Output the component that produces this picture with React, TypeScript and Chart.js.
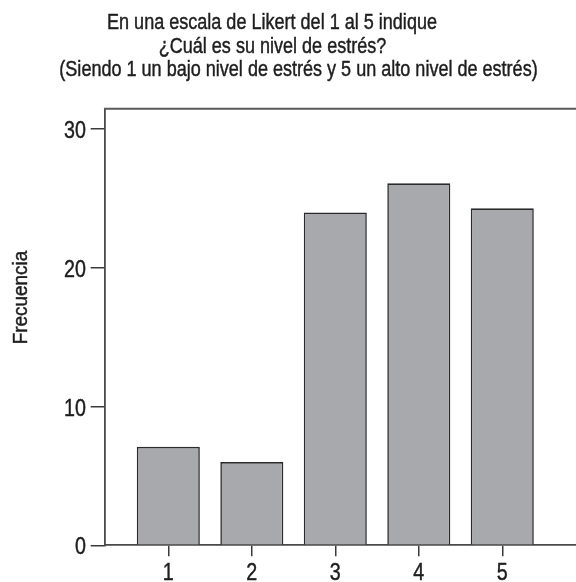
import React, { useEffect, useRef } from "react";
import { Chart, registerables } from "chart.js";

Chart.register(...registerables);

// ---- data ----
const categories = ["1", "2", "3", "4", "5"];
const categoryValues = [1, 2, 3, 4, 5];
const frequencies = [7.1, 6, 24, 26.1, 24.3];
const yTickValues = [0, 10, 20, 30];
const titleLines = [
  "En una escala de Likert del 1 al 5 indique",
  "¿Cuál es su nivel de estrés?",
  "(Siendo 1 un bajo nivel de estrés y 5 un alto nivel de estrés)",
];
const yAxisLabel = "Frecuencia";

// ---- style ----
const W = 576;
const H = 582;
const SQUEEZE = 0.82;
const TEXT = "#1e1e1e";
const FONT = '"Liberation Sans", Arial, sans-serif';

function drawNarrow(
  ctx: CanvasRenderingContext2D,
  text: string,
  x: number,
  y: number,
  size: number,
  align: CanvasTextAlign,
  baseline: CanvasTextBaseline,
  rotate = 0,
  squeeze = SQUEEZE
) {
  ctx.save();
  ctx.translate(x, y);
  if (rotate) ctx.rotate(rotate);
  ctx.scale(squeeze, 1);
  ctx.font = `${size}px ${FONT}`;
  ctx.fillStyle = TEXT;
  ctx.strokeStyle = TEXT;
  ctx.lineWidth = 0.45;
  ctx.textAlign = align;
  ctx.textBaseline = baseline;
  ctx.fillText(text, 0, 0);
  ctx.strokeText(text, 0, 0);
  ctx.restore();
}

const textPlugin = {
  id: "narrowText",
  afterDraw(chart: any) {
    const ctx = chart.ctx as CanvasRenderingContext2D;
    const area = chart.chartArea;
    // top frame line
    ctx.save();
    ctx.strokeStyle = "#5a5a5a";
    ctx.lineWidth = 2;
    ctx.beginPath();
    ctx.moveTo(area.left - 0.75, area.top);
    ctx.lineTo(area.right + 10, area.top);
    ctx.stroke();
    ctx.restore();

    // titles
    const titleX = [272, 272.5, 298.5];
    const titleY = [28.5, 52.5, 75.5];
    titleLines.forEach((t, i) => drawNarrow(ctx, t, titleX[i], titleY[i], 22, "center", "alphabetic"));

    // y axis label
    drawNarrow(ctx, yAxisLabel, 26.7, 297.5, 19.5, "center", "alphabetic", -Math.PI / 2, 0.97);

    // y tick labels
    const ys = chart.scales.y;
    yTickValues.forEach((v) => {
      drawNarrow(ctx, String(v), 86, ys.getPixelForValue(v) + 9, 24, "right", "alphabetic");
    });
    // x tick labels
    const xs = chart.scales.x;
    categoryValues.forEach((v, i) => {
      drawNarrow(ctx, categories[i], xs.getPixelForValue(v), 580, 24, "center", "alphabetic");
    });
  },
};

export default function App() {
  const ref = useRef<HTMLCanvasElement | null>(null);
  useEffect(() => {
    if (!ref.current) return;
    const chart = new Chart(ref.current, {
      type: "bar",
      data: {
        datasets: [
          {
            data: categoryValues.map((x, i) => ({ x, y: frequencies[i] })),
            backgroundColor: "#a8a9ac",
            borderColor: "#2a2a2a",
            borderWidth: 1.6,
            categoryPercentage: 1,
            barPercentage: 0.755,
          },
        ],
      },
      options: {
        animation: false,
        responsive: false,
        devicePixelRatio: 1,
        layout: { padding: { top: 108.7, left: 0, right: 0, bottom: 0 } },
        plugins: {
          legend: { display: false },
          title: { display: false },
          tooltip: { enabled: false },
        },
        scales: {
          x: {
            type: "linear",
            offset: false,
            min: 0.238,
            max: 5.883,
            afterBuildTicks: (s: any) => {
              s.ticks = categoryValues.map((v) => ({ value: v }));
            },
            afterFit: (s: any) => {
              s.height = H - 545.3;
            },
            ticks: { display: false },
            grid: {
              display: true,
              offset: false,
              drawOnChartArea: false,
              drawTicks: true,
              tickLength: 11,
              tickColor: "#3a3a3a",
              lineWidth: 1.5,
            },
            border: { display: true, color: "#4a4a4a", width: 1.8 },
          },
          y: {
            type: "linear",
            min: 0,
            max: 31.48,
            afterBuildTicks: (s: any) => {
              s.ticks = yTickValues.map((v) => ({ value: v }));
            },
            afterFit: (s: any) => {
              s.width = 104.7;
            },
            ticks: { display: false },
            grid: {
              display: true,
              drawOnChartArea: false,
              drawTicks: true,
              tickLength: 14,
              tickColor: "#3a3a3a",
              lineWidth: 1.5,
            },
            border: { display: true, color: "#4a4a4a", width: 1.8 },
          },
        },
      } as any,
      plugins: [textPlugin],
    });
    return () => chart.destroy();
  }, []);
  return (
    <div style={{ position: "fixed", left: 0, top: 0, width: W, height: H, overflow: "hidden", background: "#fff" }}>
      <canvas ref={ref} width={W} height={H} style={{ display: "block" }} />
    </div>
  );
}
